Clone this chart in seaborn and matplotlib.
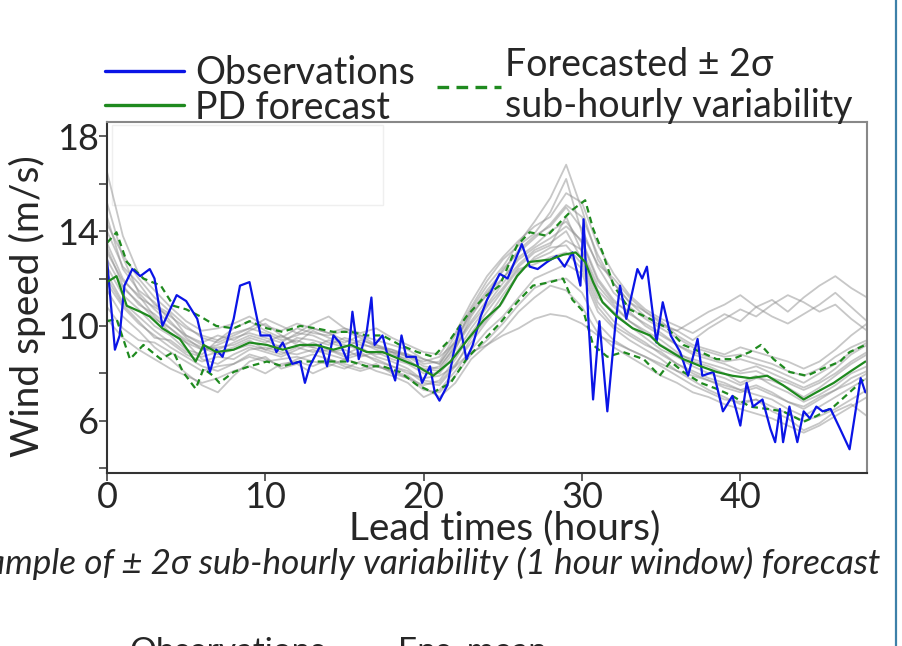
import numpy as np
import pandas as pd
import matplotlib
matplotlib.use("Agg")
import matplotlib.pyplot as plt
from matplotlib.lines import Line2D
from matplotlib.patches import Rectangle
import seaborn as sns

# ---------------- data ----------------
obs_hours = [0.0, 0.5, 0.8, 1.1, 1.6, 2.1, 2.7, 3.0, 3.5, 4.4, 5.0, 5.7, 6.5, 6.9, 7.3, 8.0, 8.4, 9.0,
             9.7, 10.3, 10.7, 11.1, 11.7, 12.2, 12.5, 12.8, 13.5, 13.9, 14.3, 14.7, 15.2, 15.5, 15.9,
             16.4, 16.7, 16.9, 17.4, 17.9, 18.2, 18.6, 18.9, 19.5, 19.9, 20.4, 20.7, 21.0, 21.5, 21.9,
             22.3, 22.7, 23.1, 23.6, 24.0, 24.8, 25.3, 26.2, 26.7, 27.2, 27.8, 28.4, 28.9, 29.4, 29.9,
             30.1, 30.4, 30.7, 31.1, 31.6, 32.1, 32.4, 32.8, 33.5, 33.8, 34.1, 34.7, 35.1, 35.6, 36.2,
             36.7, 37.3, 37.6, 38.3, 38.9, 39.5, 40.0, 40.4, 40.8, 41.4, 41.9, 42.2, 42.5, 42.7, 43.1,
             43.6, 44.0, 44.4, 44.8, 45.2, 45.7, 46.3, 46.9, 47.6, 47.9]
obs_values = [12.8, 9.0, 9.6, 11.7, 12.4, 12.1, 12.4, 12.0, 10.0, 11.3, 11.05, 10.3, 8.06, 9.0, 8.7,
              10.3, 11.7, 11.85, 9.6, 9.6, 8.9, 9.3, 8.4, 8.5, 7.6, 8.3, 9.2, 8.3, 9.6, 9.3, 8.5, 10.6,
              8.6, 9.75, 11.2, 9.2, 9.6, 8.3, 7.7, 9.6, 8.7, 8.7, 7.6, 8.3, 7.2, 6.85, 7.5, 8.9, 10.0,
              8.6, 9.2, 10.4, 11.1, 12.2, 12.0, 13.45, 12.5, 12.4, 12.7, 12.95, 12.5, 13.1, 11.7, 14.5,
              10.3, 6.9, 10.2, 6.4, 10.0, 11.7, 10.3, 12.4, 12.0, 12.5, 9.3, 11.0, 9.6, 8.9, 7.9, 9.45,
              7.9, 8.06, 6.4, 7.05, 5.8, 7.6, 6.6, 6.9, 5.66, 5.1, 6.5, 5.1, 6.6, 5.1, 6.4, 6.1, 6.6,
              6.4, 6.5, 5.66, 4.8, 7.8, 7.2]

pd_hours = [0.0, 0.6, 1.25, 2.1, 2.7, 3.5, 4.6, 5.6, 6.1, 6.9, 8.0, 9.0, 10.1, 11.1, 12.2, 13.2, 14.3,
            15.4, 16.4, 17.4, 18.5, 19.6, 20.6, 21.7, 22.8, 23.8, 24.8, 25.9, 26.7, 28.0, 28.8, 29.6,
            30.2, 30.7, 31.3, 32.2, 33.2, 34.3, 34.9, 36.4, 37.5, 38.5, 39.5, 40.6, 41.7, 42.7, 44.0,
            44.8, 45.9, 46.9, 47.9]
pd_values = [11.85, 12.1, 10.85, 10.6, 10.4, 9.9, 9.45, 8.5, 9.2, 8.9, 9.0, 9.3, 9.2, 9.0, 9.2, 9.2,
             9.0, 9.2, 8.9, 8.9, 8.6, 8.3, 7.9, 8.5, 9.45, 10.25, 10.85, 12.1, 12.7, 12.8, 13.0, 13.1,
             12.7, 11.85, 11.0, 10.4, 9.9, 9.6, 9.2, 8.6, 8.3, 8.06, 7.9, 7.8, 7.9, 7.5, 6.9, 7.2, 7.6,
             8.06, 8.5]

upper_hours = [0.0, 0.6, 1.25, 2.3, 3.4, 4.2, 5.0, 5.9, 6.9, 8.0, 9.0, 10.1, 11.1, 12.2, 13.2, 14.3,
               15.4, 16.4, 17.4, 18.5, 19.6, 20.6, 21.7, 22.7, 23.8, 24.8, 25.9, 26.7, 27.8, 28.8, 29.4,
               30.2, 30.7, 31.3, 32.0, 33.0, 34.3, 35.4, 36.4, 37.5, 38.5, 39.5, 40.6, 41.3, 42.1, 43.1,
               44.2, 45.2, 46.3, 46.9, 47.9]
upper_values = [13.5, 13.95, 12.7, 12.0, 11.7, 10.85, 10.7, 10.4, 10.0, 9.9, 10.2, 9.9, 9.75, 10.0,
                9.9, 9.75, 9.75, 9.6, 9.6, 9.2, 8.9, 8.7, 9.45, 10.4, 11.2, 11.7, 13.4, 13.95, 13.8,
                14.5, 14.9, 15.3, 14.1, 13.1, 11.7, 10.7, 10.3, 9.9, 9.2, 8.9, 8.6, 8.6, 8.9, 9.2, 8.6,
                8.06, 7.9, 8.2, 8.5, 8.9, 9.2]

lower_hours = [0.0, 0.6, 1.45, 2.3, 3.4, 4.2, 4.8, 5.6, 6.1, 6.7, 7.1, 8.0, 9.0, 10.1, 11.1, 12.2, 13.2,
               14.3, 15.4, 16.4, 17.4, 18.5, 19.6, 20.6, 21.7, 22.7, 23.8, 24.8, 25.9, 26.9, 28.0, 28.8,
               29.4, 30.1, 30.7, 31.6, 32.6, 33.9, 34.9, 35.6, 36.4, 37.5, 38.5, 39.5, 40.6, 41.7, 42.7,
               44.0, 44.8, 45.9, 46.9, 47.9]
lower_values = [10.2, 10.3, 8.6, 9.2, 8.6, 8.9, 8.06, 7.35, 8.2, 7.9, 7.6, 8.06, 8.3, 8.5, 8.3, 8.5, 8.5,
                8.5, 8.5, 8.3, 8.3, 8.06, 7.5, 7.2, 7.6, 8.6, 9.4, 10.1, 11.0, 11.7, 11.85, 12.0, 11.1,
                10.6, 9.2, 8.7, 8.9, 8.6, 7.9, 8.5, 8.06, 7.6, 7.35, 7.05, 6.6, 6.5, 6.4, 5.96, 6.2,
                6.6, 7.2, 7.8]

member_hours = list(range(49))
member_01 = [16.5,13.8,12.2,11.5,10.8,10.2,9.8,9.9,10.1,10.4,10.0,9.8,10.1,9.9,9.7,9.9,9.6,9.4,9.2,9.0,8.6,8.4,9.4,10.6,11.5,12.3,13.2,13.8,14.2,15.0,14.1,12.5,11.4,10.8,10.3,9.9,9.5,9.1,8.9,8.7,8.8,8.6,8.4,8.1,7.9,8.2,8.7,9.1,9.4]
member_02 = [10.3,9.5,9.0,8.6,8.2,7.9,7.6,7.8,8.1,8.3,8.0,8.4,8.5,8.3,8.6,8.4,8.2,8.4,8.0,7.8,7.3,7.2,7.9,8.8,9.4,10.1,10.9,11.6,11.9,12.0,11.4,10.1,9.4,9.0,8.7,8.3,7.9,7.5,7.2,6.9,6.8,6.9,6.6,6.3,6.0,6.2,6.5,6.9,7.3]
member_03 = [14.0,12.5,11.8,10.9,10.5,9.6,9.3,9.6,9.4,9.8,10.1,9.6,9.3,9.8,9.5,9.3,9.6,9.2,9.0,8.8,8.4,8.5,9.6,10.8,11.9,12.8,13.4,13.9,14.8,16.2,13.9,12.6,12.0,11.2,10.6,10.1,9.8,10.2,10.6,10.9,11.3,10.8,11.1,10.6,11.2,11.7,12.1,11.6,11.2]
member_04 = [12.8,11.6,11.0,10.3,9.9,9.3,8.6,8.4,8.8,9.1,8.9,8.7,9.0,9.3,9.0,8.8,9.1,8.7,8.5,8.2,7.7,7.6,8.4,9.3,10.2,11.0,12.3,12.8,13.1,13.6,13.2,11.7,10.9,10.2,9.8,9.4,8.9,8.5,8.3,8.0,7.6,7.9,7.5,7.2,6.8,7.1,7.5,8.0,8.3]
member_05 = [15.2,12.9,11.4,10.7,10.1,9.6,9.2,9.0,9.3,9.6,9.4,9.1,9.5,9.4,9.2,9.5,9.3,9.0,8.8,8.6,8.1,8.3,9.1,10.1,10.9,11.8,12.6,13.2,13.5,14.0,12.8,11.2,10.6,10.0,9.5,9.0,8.7,8.3,8.0,7.8,7.5,7.8,7.7,7.4,7.0,7.4,7.9,8.4,8.8]
member_06 = [11.5,10.4,9.8,9.1,8.6,8.0,7.5,7.2,7.9,8.5,8.7,8.2,8.4,8.0,8.3,8.6,8.4,8.1,7.9,7.6,7.0,7.3,8.1,9.0,9.8,10.4,11.2,12.0,12.3,12.6,12.2,10.6,9.9,9.4,9.0,8.6,8.1,7.7,7.3,7.0,6.7,6.9,6.4,6.1,5.6,5.9,6.4,6.7,6.2]
member_07 = [13.5,12.0,11.2,10.8,10.4,9.9,9.6,9.4,9.7,9.9,10.3,10.0,9.7,10.1,10.4,9.9,9.7,9.9,9.5,9.2,8.9,8.8,9.7,11.0,12.1,12.9,13.6,14.2,14.6,15.6,15.2,13.4,12.2,11.3,10.7,10.3,10.0,9.7,10.1,10.5,10.2,10.8,10.4,10.1,10.5,10.9,11.4,10.8,10.2]
member_08 = [12.2,11.0,10.4,9.8,9.3,8.8,8.5,8.7,8.6,9.0,9.1,8.9,8.8,9.0,8.8,8.6,8.8,8.6,8.3,8.1,7.6,7.5,8.3,9.5,10.3,11.3,12.2,12.9,13.3,13.4,12.6,11.0,10.2,9.7,9.3,8.8,8.4,8.0,7.7,7.5,7.3,7.5,7.2,6.8,6.5,6.9,7.3,7.6,8.0]
member_09 = [14.6,12.4,11.5,11.0,10.2,9.5,9.0,9.1,9.2,9.5,9.3,9.6,9.2,9.1,9.4,9.2,9.0,8.8,8.9,8.5,8.2,8.1,9.0,10.4,11.4,12.0,12.9,13.4,14.0,14.4,13.5,11.9,11.0,10.6,10.0,9.6,9.2,8.8,8.6,8.4,8.1,8.3,8.0,7.7,7.4,7.7,8.2,8.8,9.2]
member_10 = [10.8,9.9,9.4,9.3,8.9,8.5,8.1,8.3,8.4,8.7,8.5,8.6,8.7,8.5,8.4,8.2,8.5,8.3,8.1,7.9,7.4,7.0,7.6,8.6,9.2,9.8,10.6,11.2,11.7,11.5,10.8,9.7,9.1,8.7,8.3,7.9,7.6,7.2,7.0,6.7,6.5,6.3,6.1,5.8,5.5,5.8,6.2,6.6,7.0]
member_11 = [13.1,11.9,11.3,10.4,9.7,9.3,9.0,9.2,9.5,9.7,9.5,9.3,9.7,9.6,9.3,9.1,9.4,9.2,8.9,8.7,8.3,8.2,9.2,10.2,11.1,12.0,12.8,13.3,13.7,14.2,13.6,12.0,11.1,10.5,10.1,9.7,9.2,8.9,8.7,8.5,8.6,8.4,8.2,7.9,7.6,8.0,8.4,8.9,9.3]
member_12 = [12.5,11.3,10.7,10.0,9.6,9.0,8.8,9.4,9.9,10.2,9.8,9.5,9.9,9.7,9.6,9.8,9.5,9.1,9.0,8.7,8.5,8.7,9.3,10.5,11.3,12.4,13.1,13.7,14.3,15.1,14.6,13.0,11.8,11.0,10.4,10.0,9.8,9.4,9.9,10.3,10.7,10.4,10.9,11.3,11.0,10.6,10.9,10.3,9.8]
member_13 = [11.8,10.8,10.1,9.6,9.1,8.7,8.3,8.1,8.4,8.8,8.6,8.3,8.6,8.8,8.6,8.3,8.1,8.3,8.1,7.8,7.5,7.7,8.6,9.7,10.6,11.5,12.4,12.6,12.9,13.1,12.4,10.8,10.0,9.6,9.2,8.9,8.4,8.1,7.8,7.6,7.3,7.1,6.9,6.5,6.2,6.6,7.0,7.4,7.8]
member_14 = [14.3,13.0,12.0,11.2,10.6,10.0,9.5,9.3,9.6,9.9,9.7,9.4,9.6,9.9,9.7,9.4,9.2,9.1,8.9,8.8,8.6,8.4,9.3,10.7,11.7,12.5,13.5,14.4,15.4,16.8,14.9,12.8,11.8,11.0,10.6,10.2,9.6,9.2,9.0,8.8,9.1,8.9,8.7,8.5,8.2,8.5,9.0,9.6,10.1]
member_15 = [12.0,10.9,10.2,9.5,9.4,8.9,8.7,8.9,9.1,9.4,9.0,8.8,9.1,8.9,9.0,8.7,8.9,8.5,8.3,8.0,7.8,7.9,8.3,8.9,9.2,9.6,9.9,10.3,10.5,10.4,10.1,9.6,9.3,9.0,8.7,8.4,8.1,7.9,7.7,7.4,7.2,7.4,7.1,6.8,6.6,7.0,7.3,7.8,8.1]
member_16 = [13.3,11.7,10.9,10.5,9.9,9.4,9.1,8.8,9.0,9.2,9.0,9.2,9.4,9.1,8.9,9.0,8.7,8.9,8.6,8.4,8.0,8.0,8.8,9.9,10.8,11.6,12.5,13.1,13.4,14.6,13.1,11.5,10.8,10.2,9.7,9.2,8.8,8.6,8.4,8.2,8.0,8.1,7.8,7.6,7.3,7.6,8.0,8.5,8.9]
members = [member_01, member_02, member_03, member_04, member_05, member_06, member_07, member_08,
           member_09, member_10, member_11, member_12, member_13, member_14, member_15, member_16]

x_ticks = [0, 10, 20, 30, 40]
y_major = [6, 10, 14, 18]
y_minor = [4, 8, 12, 16]

# ---------------- build tables ----------------
ens_df = pd.DataFrame({
    "hour": np.tile(member_hours, len(members)),
    "value": np.concatenate([np.asarray(m, float) for m in members]),
    "member": np.repeat(np.arange(len(members)), len(member_hours)),
})
obs_df = pd.DataFrame({"hour": obs_hours, "value": obs_values})
pd_df = pd.DataFrame({"hour": pd_hours, "value": pd_values})
up_df = pd.DataFrame({"hour": upper_hours, "value": upper_values})
lo_df = pd.DataFrame({"hour": lower_hours, "value": lower_values})

# ---------------- style ----------------
sns.set_style("ticks")
plt.rcParams["font.family"] = ["Lato", "DejaVu Sans"]

W, H = 903, 646
fig = plt.figure(figsize=(W / 100, H / 100), dpi=100)
ax = fig.add_axes([107 / W, 1 - 473 / H, (867 - 107) / W, (473 - 122) / H])

BLUE = "#0a14e6"
GREEN = "#1f8a1f"

sns.lineplot(data=ens_df, x="hour", y="value", units="member", estimator=None,
             color="#8a8a8a", alpha=0.48, lw=1.3, ax=ax, legend=False)
sns.lineplot(data=up_df, x="hour", y="value", color=GREEN, lw=1.6, ls=(0, (3, 2)), ax=ax, legend=False)
sns.lineplot(data=lo_df, x="hour", y="value", color=GREEN, lw=1.6, ls=(0, (3, 2)), ax=ax, legend=False)
sns.lineplot(data=obs_df, x="hour", y="value", color=BLUE, lw=1.6, ax=ax, legend=False)
sns.lineplot(data=pd_df, x="hour", y="value", color=GREEN, lw=1.6, ax=ax, legend=False)

# faint leftover legend frame
ax.add_patch(Rectangle((5 / 760, (473 - 205) / 351), 271 / 760, 80 / 351, transform=ax.transAxes,
                       fill=False, ec="#efefef", lw=1.0))

ax.set_xlim(0, 48)
ax.set_ylim(3.8, 18.6)
ax.set_xticks(x_ticks)
ax.set_xticklabels([str(t) for t in x_ticks])
ax.set_yticks(y_major)
ax.set_yticklabels([str(t) for t in y_major])
ax.set_yticks(y_minor, minor=True)
ax.tick_params(axis="both", which="major", labelsize=26, length=6, width=1.2, color="#444444", pad=0)
ax.tick_params(axis="y", which="minor", length=6, width=1.2, color="#444444")
for s in ["left", "bottom"]:
    ax.spines[s].set_color("#333333")
    ax.spines[s].set_linewidth(1.5)
for s in ["top", "right"]:
    ax.spines[s].set_color("#888888")
    ax.spines[s].set_linewidth(1.5)

ax.set_xlabel("Lead times (hours)", fontsize=28)
ax.xaxis.set_label_coords(0.523, -0.105)
ax.set_ylabel("Wind speed (m/s)", fontsize=28)
ax.yaxis.set_label_coords(-0.08, 0.475)

# legend, column 1
h1 = [Line2D([], [], color=BLUE, lw=2.4), Line2D([], [], color=GREEN, lw=2.4)]
leg1 = ax.legend(h1, ["Observations", "PD forecast"], loc="lower left", bbox_to_anchor=(-0.002, 0.99),
                 frameon=False, fontsize=27, handlelength=2.1, handletextpad=0.3,
                 labelspacing=-0.05, borderaxespad=0, borderpad=0)
ax.add_artist(leg1)
# legend, column 2
h2 = [Line2D([], [], color=GREEN, lw=2.4, ls=(0, (3.5, 2.2)))]
leg2 = ax.legend(h2, ["Forecasted ± 2σ\nsub-hourly variability"], loc="lower left",
                 bbox_to_anchor=((437 - 107) / 760, 0.995), frameon=False, fontsize=27,
                 handlelength=1.7, handletextpad=0.12, borderaxespad=0, borderpad=0)
for t in leg2.get_texts():
    t.set_linespacing(1.17)

fig.text(880 / W, 1 - 563 / H, "Example of ± 2σ sub-hourly variability (1 hour window) forecast",
         ha="right", va="center", fontsize=25.3, style="italic")
fig.text(129 / W, 1 - 637 / H, "Observations", ha="left", va="top", fontsize=24)
fig.text(398 / W, 1 - 637 / H, "Ens. mean", ha="left", va="top", fontsize=24)

fig.add_artist(Line2D([896 / W, 896 / W], [0, 1], transform=fig.transFigure, color="#3d80a8", lw=1.6))

fig.savefig("out.png", dpi=100)
